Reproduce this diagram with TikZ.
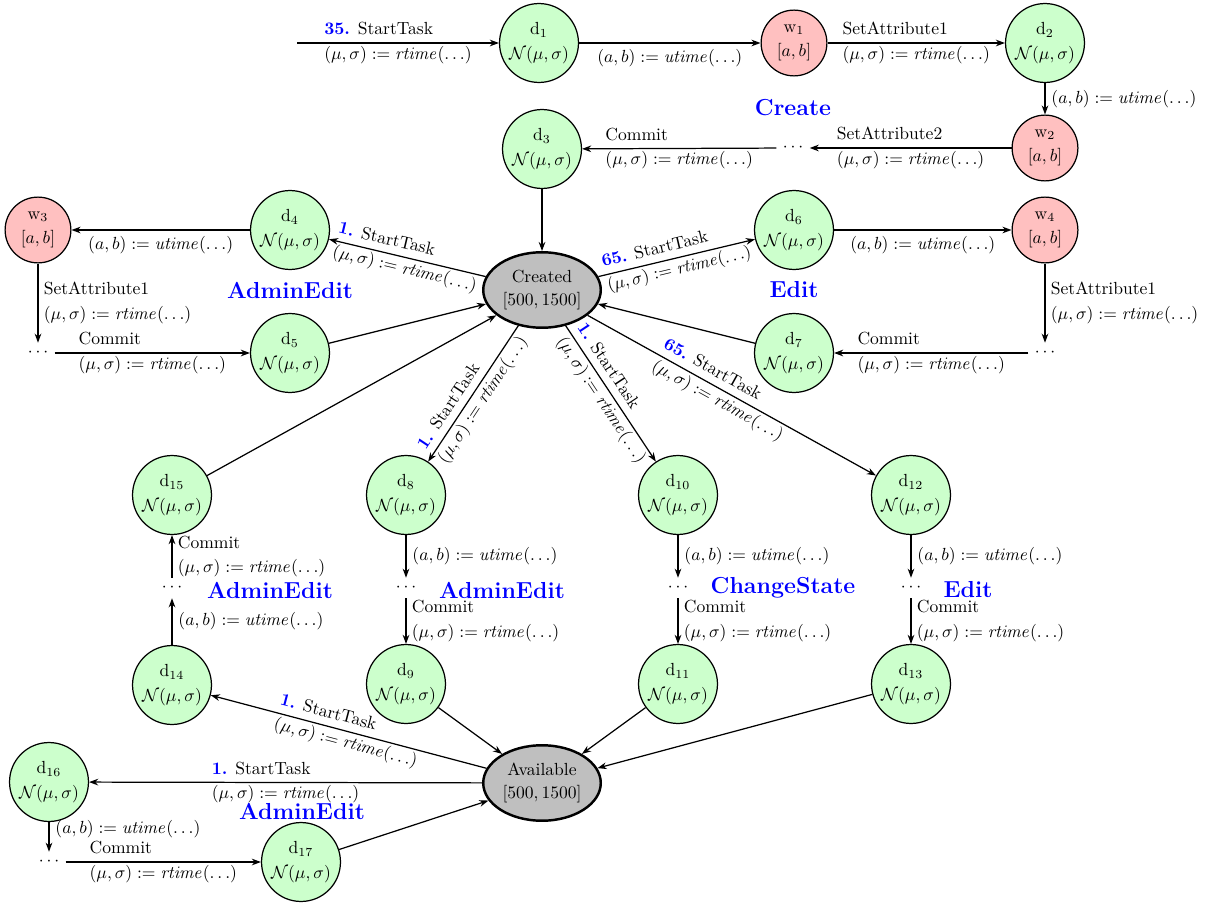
\documentclass[tikz,border=0pt]{standalone}
\usetikzlibrary{arrows.meta,shapes.geometric}
\definecolor{dgreen}{HTML}{CCFFCC}
\definecolor{wred}{HTML}{FFC0C0}
\newcommand{\rtimelbl}{$(\mu,\sigma) := \mathit{rtime}(\ldots)$}
\newcommand{\utimelbl}{$(a,b) := \mathit{utime}(\ldots)$}
\newcommand{\nlbl}{$\mathcal{N}(\mu,\sigma)$}
\newcommand{\ablbl}{$[a,b]$}
\newcommand{\stepnum}[1]{\textcolor{blue}{\textbf{#1}}}
\begin{document}
\begin{tikzpicture}[x=0.57pt,y=-0.57pt,
  >={Stealth[length=5.2pt,width=3.8pt]},
  dnode/.style={circle, draw=black, line width=0.7pt, fill=dgreen, minimum size=45pt,
    inner sep=0pt, align=center, font=\fontsize{10}{14}\selectfont},
  wnode/.style={circle, draw=black, line width=0.7pt, fill=wred, minimum size=37.5pt,
    inner sep=0pt, align=center, font=\fontsize{10}{14}\selectfont},
  statenode/.style={ellipse, draw=black, line width=1.4pt, fill=gray!50, minimum width=67pt,
    minimum height=43pt, inner sep=0pt, align=center, font=\fontsize{10}{13}\selectfont},
  dotsn/.style={inner sep=3.5pt, text height=1ex, text depth=0pt},
  conn/.style={->, line width=0.7pt},
  lbl/.style={align=left, inner sep=0pt, font=\fontsize{10}{14}\selectfont},
  side/.style={lbl, right, inner sep=3pt},
  phase/.style={text=blue, font=\fontsize{13.2}{16}\selectfont\bfseries}
]
\useasboundingbox (0,0) rectangle (1215,904);

% ---- Create workflow ----
\coordinate (in35) at (297,43);
\node[dnode] (d1) at (539,43) {d$_1$\\\nlbl};
\node[wnode] (w1) at (794,43) {w$_1$\\\ablbl};
\node[dnode] (d2) at (1045,43) {d$_2$\\\nlbl};
\node[wnode] (w2) at (1045,148) {w$_2$\\\ablbl};
\node[dotsn] (dA) at (793,148) {$\cdots$};
\node[dnode] (d3) at (542,149) {d$_3$\\\nlbl};
\node[phase] (pCreate) at (793,108) {Create};

% ---- central states ----
\node[statenode] (created) at (542,290) {Created\\$[500,1500]$};
\node[statenode] (avail) at (542,783) {Available\\$[500,1500]$};

% ---- AdminEdit (upper left) ----
\node[wnode] (w3) at (38,230) {w$_3$\\\ablbl};
\node[dnode] (d4) at (290,230) {d$_4$\\\nlbl};
\node[dotsn] (dL) at (38,353) {$\cdots$};
\node[dnode] (d5) at (290,353) {d$_5$\\\nlbl};
\node[phase] (pAE1) at (290,290) {AdminEdit};

% ---- Edit (upper right) ----
\node[dnode] (d6) at (794,230) {d$_6$\\\nlbl};
\node[wnode] (w4) at (1045,230) {w$_4$\\\ablbl};
\node[dotsn] (dR) at (1045,353) {$\cdots$};
\node[dnode] (d7) at (794,353) {d$_7$\\\nlbl};
\node[phase] (pEdit1) at (794,290) {Edit};

% ---- middle columns ----
\node[dnode] (d15) at (172,495) {d$_{15}$\\\nlbl};
\node[dnode] (d8)  at (406,495) {d$_8$\\\nlbl};
\node[dnode] (d10) at (678,495) {d$_{10}$\\\nlbl};
\node[dnode] (d12) at (911,495) {d$_{12}$\\\nlbl};
\node[dotsn] (c1) at (172,588) {$\cdots$};
\node[dotsn] (c2) at (406,588) {$\cdots$};
\node[dotsn] (c3) at (678,588) {$\cdots$};
\node[dotsn] (c4) at (911,588) {$\cdots$};
\node[dnode] (d14) at (172,685) {d$_{14}$\\\nlbl};
\node[dnode] (d9)  at (406,684) {d$_9$\\\nlbl};
\node[dnode] (d11) at (678,684) {d$_{11}$\\\nlbl};
\node[dnode] (d13) at (911,684) {d$_{13}$\\\nlbl};
\node[phase] (pAE2) at (270,590) {AdminEdit};
\node[phase] (pAE3) at (502,590) {AdminEdit};
\node[phase] (pCS)  at (783,588) {ChangeState};
\node[phase] (pEdit2) at (968,590) {Edit};

% ---- AdminEdit (bottom) ----
\node[dnode] (d16) at (49,782) {d$_{16}$\\\nlbl};
\node[dotsn] (cB) at (49,862) {$\cdots$};
\node[dnode] (d17) at (301,862) {d$_{17}$\\\nlbl};
\node[phase] (pAE4) at (302,811) {AdminEdit};

% ---- connectors: Create ----
\draw[conn] (in35) -- node[lbl]{\stepnum{35.} StartTask\\\rtimelbl} (d1);
\draw[conn] (d1) -- node[below]{\utimelbl} (w1);
\draw[conn] (w1) -- node[lbl]{SetAttribute1\\\rtimelbl} (d2);
\draw[conn] (d2) -- node[right]{\utimelbl} (w2);
\draw[conn] (w2) -- node[lbl]{SetAttribute2\\\rtimelbl} (dA);
\draw[conn] (dA) -- node[lbl]{Commit\\\rtimelbl} (d3);
\draw[conn] (d3) -- (created);

% ---- connectors: AdminEdit / Edit loops ----
\draw[conn] (created) -- node[lbl,sloped]{\stepnum{1.} StartTask\\\rtimelbl} (d4);
\draw[conn] (d4) -- node[below]{\utimelbl} (w3);
\draw[conn] (w3) -- node[side]{SetAttribute1\\\rtimelbl} (dL);
\draw[conn] (dL) -- node[lbl]{Commit\\\rtimelbl} (d5);
\draw[conn] (d5) -- (created);

\draw[conn] (created) -- node[lbl,sloped]{\stepnum{65.} StartTask\\\rtimelbl} (d6);
\draw[conn] (d6) -- node[below]{\utimelbl} (w4);
\draw[conn] (w4) -- node[side]{SetAttribute1\\\rtimelbl} (dR);
\draw[conn] (dR) -- node[lbl]{Commit\\\rtimelbl} (d7);
\draw[conn] (d7) -- (created);

% ---- connectors: middle columns ----
\draw[conn] (created) -- node[lbl,sloped]{\stepnum{1.} StartTask\\\rtimelbl} (d8);
\draw[conn] (created) -- node[lbl,sloped]{\stepnum{1.} StartTask\\\rtimelbl} (d10);
\draw[conn] (created) -- node[lbl,sloped,pos=0.47]{\stepnum{65.} StartTask\\\rtimelbl} (d12);
\draw[conn] (d15) -- (created);

\draw[conn] (d14) -- node[right]{\utimelbl} (c1);
\draw[conn] (c1) -- node[side]{Commit\\\rtimelbl} (d15);
\draw[conn] (d8) -- node[right]{\utimelbl} (c2);
\draw[conn] (c2) -- node[side]{Commit\\\rtimelbl} (d9);
\draw[conn] (d10) -- node[right]{\utimelbl} (c3);
\draw[conn] (c3) -- node[side]{Commit\\\rtimelbl} (d11);
\draw[conn] (d12) -- node[right]{\utimelbl} (c4);
\draw[conn] (c4) -- node[side]{Commit\\\rtimelbl} (d13);

\draw[conn] (d9) -- (avail);
\draw[conn] (d11) -- (avail);
\draw[conn] (d13) -- (avail);
\draw[conn] (avail) -- node[lbl,sloped]{\stepnum{1.} StartTask\\\rtimelbl} (d14);

% ---- connectors: bottom AdminEdit ----
\draw[conn] (avail) -- node[lbl]{\stepnum{1.} StartTask\\\rtimelbl} (d16);
\draw[conn] (d16) -- node[right,pos=0.25]{\utimelbl} (cB);
\draw[conn] (cB) -- node[lbl]{Commit\\\rtimelbl} (d17);
\draw[conn] (d17) -- (avail);
\end{tikzpicture}
\end{document}
